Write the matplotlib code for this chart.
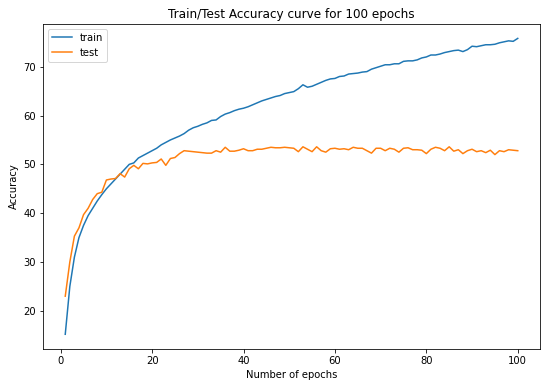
import matplotlib
matplotlib.use("Agg")
import matplotlib.pyplot as plt
import numpy as np

epochs = np.arange(1, 101)

train_acc = [
    15.2, 25.0, 31.0, 35.0, 37.5, 39.5, 41.0, 42.5, 43.8, 45.0,
    46.0, 47.0, 48.0, 49.0, 50.0, 50.3, 51.3, 51.8, 52.3, 52.8,
    53.3, 54.0, 54.5, 55.0, 55.4, 55.8, 56.3, 57.0, 57.5, 57.8,
    58.2, 58.5, 59.0, 59.1, 59.8, 60.3, 60.6, 61.0, 61.3, 61.5,
    61.8, 62.2, 62.6, 63.0, 63.3, 63.6, 63.9, 64.1, 64.5, 64.7,
    64.9, 65.5, 66.3, 65.8, 66.0, 66.4, 66.8, 67.2, 67.5, 67.6,
    68.0, 68.1, 68.5, 68.6, 68.7, 68.9, 69.0, 69.5, 69.8, 70.1,
    70.4, 70.4, 70.6, 70.6, 71.1, 71.2, 71.2, 71.4, 71.8, 72.0,
    72.4, 72.4, 72.6, 72.9, 73.1, 73.3, 73.4, 73.1, 73.5, 74.2,
    74.1, 74.3, 74.5, 74.5, 74.6, 74.9, 75.1, 75.3, 75.2, 75.8,
]

test_acc = [
    23.0, 30.0, 35.3, 37.0, 39.7, 41.0, 42.8, 44.0, 44.3, 46.8,
    47.0, 47.1, 48.1, 47.4, 49.1, 49.8, 49.1, 50.2, 50.1, 50.3,
    50.4, 51.1, 49.8, 51.2, 51.4, 52.2, 52.8, 52.7, 52.6, 52.5,
    52.4, 52.3, 52.3, 52.8, 52.5, 53.5, 52.7, 52.7, 52.9, 53.2,
    52.8, 52.8, 53.1, 53.1, 53.3, 53.5, 53.4, 53.4, 53.5, 53.4,
    53.3, 52.6, 53.6, 53.1, 52.6, 53.6, 52.8, 52.5, 53.2, 53.3,
    53.1, 53.2, 53.0, 53.5, 53.3, 53.3, 52.8, 52.3, 53.3, 53.3,
    52.8, 53.3, 53.1, 52.5, 53.3, 53.4, 53.0, 53.0, 52.9, 52.2,
    53.1, 53.5, 53.3, 52.8, 53.6, 52.7, 53.0, 52.2, 52.8, 53.1,
    52.6, 52.8, 52.4, 52.9, 52.0, 52.8, 52.6, 53.0, 52.9, 52.8,
]

fig = plt.figure(figsize=(550 / 72, 387 / 72), dpi=72)
ax = fig.add_axes([0.0775, 0.098, 0.905, 0.841])

ax.plot(epochs, train_acc, label='train')
ax.plot(epochs, test_acc, label='test')

ax.set_title('Train/Test Accuracy curve for 100 epochs')
ax.set_xlabel('Number of epochs')
ax.set_ylabel('Accuracy')
ax.legend(loc='upper left')

fig.savefig('out.png', dpi=72)
